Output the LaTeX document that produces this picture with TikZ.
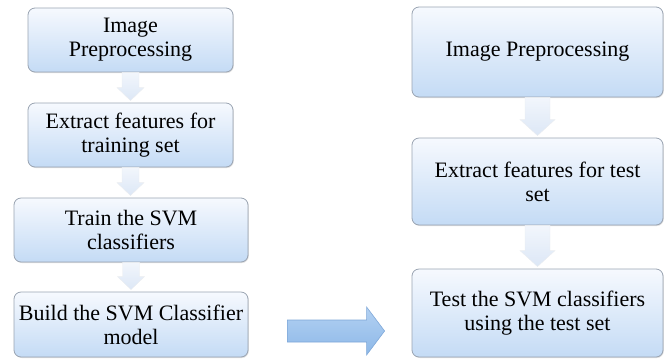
\documentclass[tikz,border=0pt]{standalone}
\usepackage{fontspec}
\setmainfont{Liberation Serif}
\usetikzlibrary{calc,shadows}
\definecolor{boxtop}{HTML}{F6F9FE}
\definecolor{boxbot}{HTML}{C4DBF5}
\definecolor{boxline}{HTML}{9AA4B2}
\definecolor{arrtop}{HTML}{F2F6FC}
\definecolor{arrbot}{HTML}{DCE7F6}
\definecolor{bigtop}{HTML}{B3D1F2}
\definecolor{bigbot}{HTML}{8DB8E8}
\definecolor{bigline}{HTML}{7EA7D8}
\tikzset{
  stepbox/.style={draw=boxline, line width=0.8pt, rounded corners=7pt,
    top color=boxtop, bottom color=boxbot, align=center,
    font=\fontsize{22}{24}\selectfont, inner sep=0pt,
    drop shadow={shadow xshift=0.8pt, shadow yshift=-1pt, opacity=0.25}},
  flowarrow/.style={draw=white!80!boxline, line width=0.4pt, top color=arrtop, bottom color=arrbot},
  bigarrow/.style={draw=bigline, line width=0.6pt, top color=bigtop, bottom color=bigbot}
}
\newcommand{\downarrowshape}[5]{%
  % #1 from node, #2 to node, #3 stem half width, #4 head half width, #5 head length
  \path[flowarrow] let \p1=(#1.south), \p2=(#2.north) in
    (\x1-#3,\y1) -- (\x1+#3,\y1) -- (\x1+#3,\y2+#5) -- (\x1+#4,\y2+#5)
    -- (\x1,\y2+2pt) -- (\x1-#4,\y2+#5) -- (\x1-#3,\y2+#5) -- cycle;}
\begin{document}
\begin{tikzpicture}[x=1pt,y=-1pt]
\useasboundingbox (0,0) rectangle (670,360);
% left column
\node[stepbox, minimum width=205pt, minimum height=64pt] (L1) at (130.5,40) {Image\\Preprocessing};
\node[stepbox, minimum width=205pt, minimum height=64pt] (L2) at (130.5,135) {Extract features for\\training set};
\node[stepbox, minimum width=234pt, minimum height=64pt] (L3) at (131,230) {Train the SVM\\classifiers};
\node[stepbox, minimum width=234pt, minimum height=65pt] (L4) at (131,324.5) {Build the SVM Classifier\\model};
% right column
\node[stepbox, minimum width=251pt, minimum height=90pt] (R1) at (537.5,52) {Image Preprocessing};
\node[stepbox, minimum width=251pt, minimum height=87pt] (R2) at (537.5,181.5) {Extract features for test\\set};
\node[stepbox, minimum width=251pt, minimum height=88pt] (R3) at (537.5,313) {Test the SVM classifiers\\using the test set};
% flow arrows
\downarrowshape{L1}{L2}{8.5pt}{13.5pt}{15pt}
\downarrowshape{L2}{L3}{8.5pt}{13.5pt}{15pt}
\downarrowshape{L3}{L4}{8.5pt}{13.5pt}{15pt}
\downarrowshape{R1}{R2}{12.5pt}{17.5pt}{18pt}
\downarrowshape{R2}{R3}{12.5pt}{17.5pt}{18pt}
% big arrow
\coordinate (bs) at ($(L4.east)+(39,6.5)$);
\coordinate (bt) at ($(R3.west)+(-27,18)$);
\path[bigarrow] let \p1=(bs), \p2=(bt) in
  (\x1,\y1-11pt) -- (\x2-18pt,\y1-11pt) -- (\x2-18pt,\y1-24pt) -- (\x2,\y1)
  -- (\x2-18pt,\y1+24pt) -- (\x2-18pt,\y1+11pt) -- (\x1,\y1+11pt) -- cycle;
\end{tikzpicture}
\end{document}
